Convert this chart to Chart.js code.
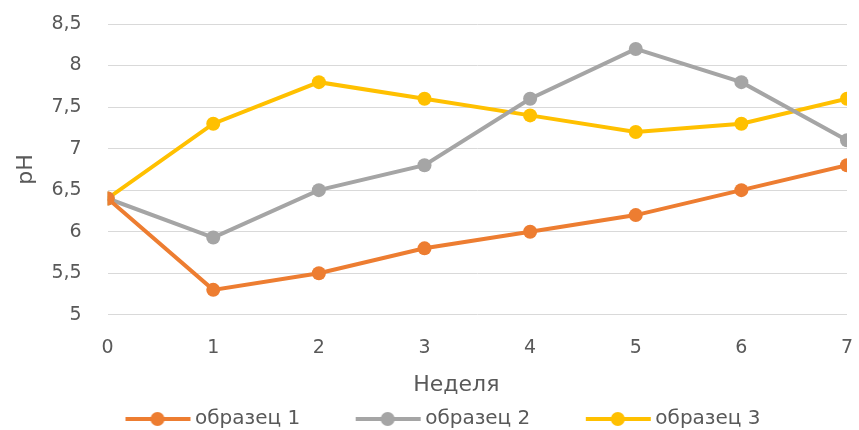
<!DOCTYPE html>
<html>
<head>
<meta charset="utf-8">
<script src="https://cdn.jsdelivr.net/npm/chart.js@4"></script>
<style>
    html, body { margin: 0; padding: 0; background: #fff; }
    #wrap { width: 859px; height: 430px; }
</style>
</head>
<body>
<div id="wrap"><canvas id="phChart"></canvas></div>
<script>
const weeks = [0, 1, 2, 3, 4, 5, 6, 7];
const sample1 = [6.4, 5.3, 5.5, 5.8, 6.0, 6.2, 6.5, 6.8];
const sample2 = [6.4, 5.93, 6.5, 6.8, 7.6, 8.2, 7.8, 7.1];
const sample3 = [6.4, 7.3, 7.8, 7.6, 7.4, 7.2, 7.3, 7.6];
const seriesNames = ['образец 1', 'образец 2', 'образец 3'];
const seriesColors = ['#ED7D31', '#A5A5A5', '#FFC000'];

const fontFamily = "'DejaVu Sans', 'Noto Sans', sans-serif";
const textColor = '#595959';
const legendPad = 4;

// legend marker: empty gap on the left, then a line with a dot
function legendIcon(color) {
    const c = document.createElement('canvas');
    c.width = 124;
    c.height = 18;
    const ctx = c.getContext('2d');
    ctx.strokeStyle = color;
    ctx.lineWidth = 4;
    ctx.beginPath();
    ctx.moveTo(58, 9);
    ctx.lineTo(123, 9);
    ctx.stroke();
    ctx.fillStyle = color;
    ctx.beginPath();
    ctx.arc(90, 9, 7, 0, Math.PI * 2);
    ctx.fill();
    return c;
}

function makeSeries(values, index) {
    return {
        label: seriesNames[index],
        data: weeks.map((w, i) => ({ x: w, y: values[i] })),
        borderColor: seriesColors[index],
        backgroundColor: seriesColors[index],
        borderWidth: 4,
        pointRadius: 7,
        pointHoverRadius: 7,
        pointBorderWidth: 0,
        tension: 0,
        fill: false
    };
}

// the tick padding would otherwise be added to the plot margins too
function noScalePadding(axis) {
    axis.paddingTop = 0;
    axis.paddingBottom = 0;
    axis.paddingLeft = 0;
    axis.paddingRight = 0;
}

// legend starts under the plot and the x title sits a bit left of centre, like the original
const placeExtras = {
    id: 'placeExtras',
    afterLayout(chart) {
        if (chart.legend) {
            chart.legend.left = 74 - legendPad;
        }
        const xs = chart.scales.x;
        if (xs && !xs._titleShifted) {
            const drawTitle = xs.drawTitle;
            xs.drawTitle = function() {
                this.ctx.save();
                this.ctx.translate(-21, 0);
                drawTitle.apply(this, arguments);
                this.ctx.restore();
            };
            xs._titleShifted = true;
        }
    }
};

new Chart(document.getElementById('phChart'), {
    type: 'line',
    data: {
        datasets: [makeSeries(sample1, 0), makeSeries(sample2, 1), makeSeries(sample3, 2)]
    },
    plugins: [placeExtras],
    options: {
        responsive: true,
        maintainAspectRatio: false,
        animation: false,
        layout: {
            autoPadding: false,
            padding: { top: 24, right: 12, left: 6, bottom: -9 }
        },
        plugins: {
            tooltip: { enabled: false },
            legend: {
                position: 'bottom',
                align: 'start',
                labels: {
                    usePointStyle: true,
                    pointStyleWidth: 111,
                    color: textColor,
                    padding: legendPad,
                    font: { family: fontFamily, size: 20 },
                    generateLabels: function(chart) {
                        return chart.data.datasets.map((ds, i) => ({
                            text: ds.label,
                            fillStyle: ds.borderColor,
                            strokeStyle: ds.borderColor,
                            pointStyle: legendIcon(ds.borderColor),
                            fontColor: textColor,
                            hidden: false,
                            datasetIndex: i
                        }));
                    }
                }
            }
        },
        scales: {
            x: {
                type: 'linear',
                min: 0,
                max: 7,
                afterFit: noScalePadding,
                ticks: {
                    stepSize: 1,
                    color: textColor,
                    padding: 22,
                    font: { family: fontFamily, size: 19 }
                },
                grid: { display: false, drawTicks: false },
                border: { display: false },
                title: {
                    display: true,
                    text: 'Неделя',
                    color: textColor,
                    font: { family: fontFamily, size: 22 },
                    padding: { top: -10, bottom: 7 }
                }
            },
            y: {
                min: 5,
                max: 8.5,
                afterFit: noScalePadding,
                ticks: {
                    stepSize: 0.5,
                    color: textColor,
                    padding: 26,
                    font: { family: fontFamily, size: 19 },
                    callback: v => String(v).replace('.', ',')
                },
                grid: { color: '#D9D9D9', lineWidth: 1, drawTicks: false },
                border: { display: false },
                title: {
                    display: true,
                    text: 'pH',
                    color: textColor,
                    font: { family: fontFamily, size: 22 },
                    padding: { top: 7, bottom: -14 }
                }
            }
        }
    }
});
</script>
</body>
</html>
